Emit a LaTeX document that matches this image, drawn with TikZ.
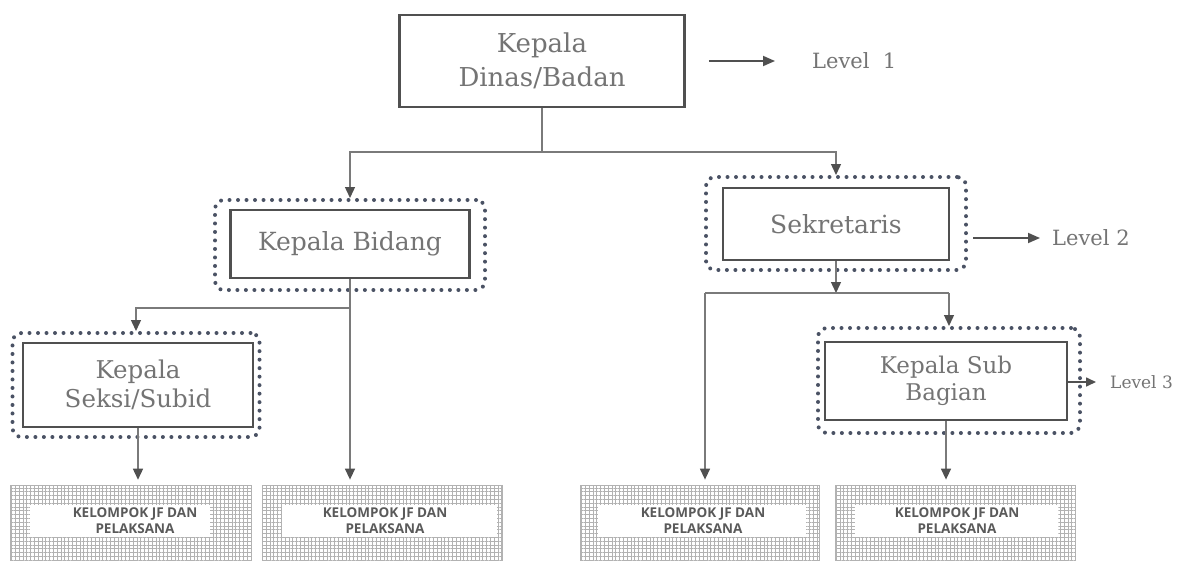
\documentclass[tikz,border=0pt]{standalone}
\usepackage{fontspec}
\newfontfamily\kfont{Open Sans}
\newfontfamily\sfnt{DejaVu Serif}
\usetikzlibrary{arrows.meta,patterns.meta}
\definecolor{txt}{HTML}{747474}
\definecolor{boxc}{HTML}{505050}
\definecolor{dotc}{HTML}{4A5264}
\definecolor{connc}{HTML}{7A7A7A}
\definecolor{gridc}{HTML}{B2B2B2}
\definecolor{ktxt}{HTML}{5A5A5A}
\begin{document}
\begin{tikzpicture}[x=1pt,y=-1pt,
  bx/.style={draw=boxc,line width=2.6pt,text=txt,align=center,inner sep=0pt},
  dotbox/.style={draw=dotc,line width=4pt,dash pattern=on 0pt off 8.5pt,line cap=round,rounded corners=9pt,inner sep=0pt},
  conn/.style={draw=connc,line width=1.4pt},
  arr/.style={conn,-{Triangle[length=11pt,width=10pt,color=boxc]}},
  lvl/.style={draw=boxc,line width=1.8pt,-{Triangle[length=12pt,width=10pt]}},
  lvltext/.style={text=txt,inner sep=0pt,anchor=west},
  kbox/.style={draw=gridc,line width=0.8pt,pattern={Hatch[angle=0,distance=3.8pt,line width=0.55pt]},pattern color=gridc,minimum height=80pt,inner sep=0pt},
  band/.style={fill=white,inner sep=0pt,minimum height=32pt},
  ktext/.style={text=ktxt,font=\kfont\bfseries\fontsize{13.5}{16}\selectfont,align=center,inner sep=0pt}
]
\useasboundingbox (0,0) rectangle (1197,560);
\fill[white] (0,0) rectangle (1197,560);
\clip (0,0) rectangle (1197,560);

% level 1
\node[bx,minimum width=285pt,minimum height=92pt,font=\sfnt\fontsize{26}{34}\selectfont] (top) at (542,61) {Kepala\\Dinas/Badan};
\node[lvltext,font=\sfnt\fontsize{21}{26}\selectfont] (L1) at (812,61) {Level\ \ 1};
\draw[lvl,shorten >=37pt] ([xshift=23pt]top.east) -- (L1.west);

% level 2
\node[dotbox,minimum width=270pt,minimum height=90pt] (bidO) at (350,245) {};
\node[bx,minimum width=239pt,minimum height=68pt,font=\sfnt\fontsize{25}{30}\selectfont] (bid) at (350,244) {Kepala Bidang};
\node[dotbox,minimum width=260pt,minimum height=93pt] (sekO) at (836,223.5) {};
\node[bx,minimum width=226pt,minimum height=72pt,font=\sfnt\fontsize{25}{30}\selectfont] (sek) at (836,224) {Sekretaris};
\node[lvltext,font=\sfnt\fontsize{21}{26}\selectfont] (L2) at (1052,238) {Level 2};
\coordinate (a2) at (973,238);
\draw[lvl,shorten >=12pt] (a2) -- (L2.west);

% level 3
\node[dotbox,minimum width=247pt,minimum height=104pt] (sesO) at (136,385) {};
\node[bx,minimum width=230pt,minimum height=84pt,font=\sfnt\fontsize{24.5}{29}\selectfont] (ses) at (138,385) {Kepala\\Seksi/Subid};
\node[dotbox,minimum width=262pt,minimum height=105pt] (subO) at (949,380.5) {};
\node[bx,minimum width=242pt,minimum height=78pt,font=\sfnt\fontsize{23}{27}\selectfont] (sub) at (946,381) {Kepala Sub\\Bagian};
\node[lvltext,font=\sfnt\fontsize{17}{20}\selectfont] (L3) at (1110,382) {Level 3};
\coordinate (a3) at (1068,382);
\draw[lvl,line width=1.6pt,-{Triangle[length=10pt,width=9pt]},shorten >=14pt] (a3) -- (L3.west);

% bottom boxes
\node[kbox,minimum width=241pt] (k1) at (130.5,525) {};
\node[kbox,minimum width=240pt] (k2) at (382,525) {};
\node[kbox,minimum width=239pt] (k3) at (699.5,525) {};
\node[kbox,minimum width=240pt] (k4) at (955,525) {};
\node[band,minimum width=180pt] (b1) at (120,521) {};
\node[band,minimum width=215pt] (b2) at (389.5,521) {};
\node[band,minimum width=208pt] (b3) at (702,521) {};
\node[band,minimum width=203pt] (b4) at (956.5,521) {};
\node[ktext] (t1) at (135,521) {KELOMPOK JF DAN\\PELAKSANA};
\node[ktext] (t2) at (385,521) {KELOMPOK JF DAN\\PELAKSANA};
\node[ktext] (t3) at (703,521) {KELOMPOK JF DAN\\PELAKSANA};
\node[ktext] (t4) at (957,521) {KELOMPOK JF DAN\\PELAKSANA};

% connectors
\coordinate (j) at (542,152);
\draw[conn] (top.south) -- (j);
\draw[arr] (j) -| (bidO.north);
\draw[arr] (j) -| (sekO.north);

\coordinate (j3) at (350,308);
\draw[conn] (bid.south) -- (j3);
\draw[arr] (j3) -| (sesO.north);
\draw[arr,shorten >=5pt] (j3) -- (j3 |- k2.north);

\coordinate (j2) at (836,293);
\coordinate (j2l) at (705,293);
\coordinate (j2r) at (949,293);
\draw[arr] (sek.south) -- (j2);
\draw[conn] (j2l) -- (j2r);
\draw[arr,shorten >=5pt] (j2l) -- (j2l |- k3.north);
\draw[arr] (j2r) -- (subO.north);

\draw[arr,shorten >=5pt] (ses.south) -- (ses.south |- k1.north);
\draw[arr,shorten >=5pt] (sub.south) -- (sub.south |- k4.north);
\end{tikzpicture}
\end{document}
